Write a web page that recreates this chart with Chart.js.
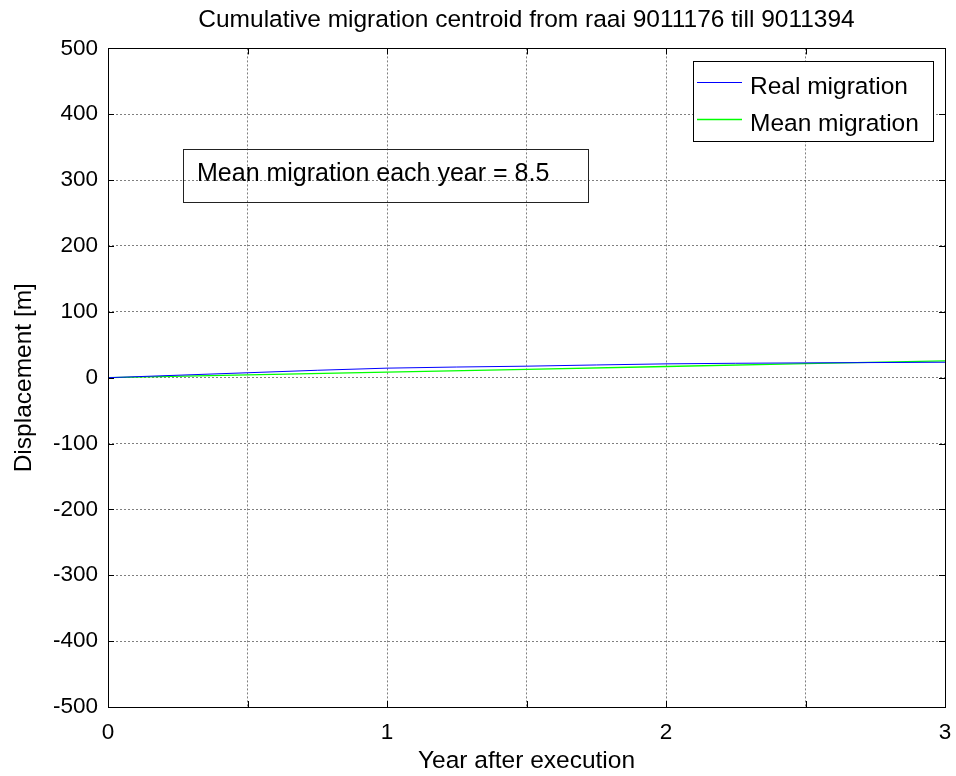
<!DOCTYPE html>
<html>
<head>
<meta charset="utf-8">
<script src="https://cdn.jsdelivr.net/npm/chart.js@4"></script>
<style>
  html, body { margin: 0; padding: 0; background: #fff; }
  #wrap { width: 956px; height: 776px; }
</style>
</head>
<body>
<div id="wrap"><canvas id="chart" width="956" height="776"></canvas></div>
<script>
// data
const years = [0, 0.5, 1, 1.5, 2, 2.5, 3];
const realMigration = [0, 7.5, 14.5, 17.5, 21, 22.5, 23.5];
const meanMigration = [0, 4.25, 8.5, 12.75, 17, 21.25, 25.5];
const seriesLabels = ['Real migration', 'Mean migration'];
const yTicks = [-500, -400, -300, -200, -100, 0, 100, 200, 300, 400, 500];
const xTickLabels = [0, 1, 2, 3];
const titleText = 'Cumulative migration centroid from raai 9011176 till 9011394';
const noteText = 'Mean migration each year = 8.5';

const FONT = "'Liberation Sans', Arial, sans-serif";

function toPoints(xs, ys) {
  return xs.map((x, i) => ({ x, y: ys[i] }));
}

// black box round the axes with inward ticks on all four sides
const matlabFrame = {
  id: 'matlabFrame',
  afterDatasetsDraw(chart) {
    const { ctx, chartArea: a, scales } = chart;
    const len = 6;
    ctx.save();
    ctx.strokeStyle = '#000';
    ctx.lineWidth = 1;
    ctx.setLineDash([]);
    ctx.beginPath();
    scales.x.ticks.forEach((t) => {
      const px = Math.round(scales.x.getPixelForValue(t.value)) + 0.5;
      ctx.moveTo(px, a.bottom); ctx.lineTo(px, a.bottom - len);
      ctx.moveTo(px, a.top); ctx.lineTo(px, a.top + len);
    });
    scales.y.ticks.forEach((t) => {
      const py = Math.round(scales.y.getPixelForValue(t.value)) + 0.5;
      ctx.moveTo(a.left, py); ctx.lineTo(a.left + len, py);
      ctx.moveTo(a.right, py); ctx.lineTo(a.right - len, py);
    });
    ctx.stroke();
    ctx.strokeRect(Math.round(a.left) + 0.5, Math.round(a.top) + 0.5,
      Math.round(a.right - a.left), Math.round(a.bottom - a.top));
    ctx.restore();
  }
};

// legend box (white, top right) and the text note (transparent box)
const matlabBoxes = {
  id: 'matlabBoxes',
  afterDraw(chart) {
    const { ctx, chartArea: a } = chart;
    ctx.save();
    ctx.setLineDash([]);

    // note
    const nx = Math.round(a.left) + 75, ny = Math.round(a.top) + 101, nw = 405, nh = 53;
    ctx.strokeStyle = '#222';
    ctx.lineWidth = 1;
    ctx.strokeRect(nx + 0.5, ny + 0.5, nw, nh);
    ctx.fillStyle = '#000';
    ctx.font = `25px ${FONT}`;
    ctx.textBaseline = 'alphabetic';
    ctx.textAlign = 'left';
    ctx.fillText(noteText, nx + 14, ny + 32);

    // legend
    const lw = 240, lh = 80;
    const lx = Math.round(a.right) - 12 - lw, ly = Math.round(a.top) + 13;
    ctx.fillStyle = '#fff';
    ctx.fillRect(lx, ly, lw, lh);
    ctx.strokeStyle = '#000';
    ctx.strokeRect(lx + 0.5, ly + 0.5, lw, lh);
    chart.data.datasets.forEach((ds, i) => {
      const rowY = Math.round(ly + 21 + i * 36.5);
      ctx.strokeStyle = ds.borderColor;
      ctx.lineWidth = i === 0 ? 1 : 1.5;
      ctx.beginPath();
      ctx.moveTo(lx + 4, rowY + 0.5);
      ctx.lineTo(lx + 49, rowY + 0.5);
      ctx.stroke();
      ctx.fillStyle = '#000';
      ctx.font = `24.5px ${FONT}`;
      ctx.fillText(ds.label, lx + 57, rowY + 12);
    });
    ctx.restore();
  }
};

const gridStyle = {
  color: 'rgba(0,0,0,0.5)',
  lineWidth: 1,
  drawTicks: false
};

new Chart(document.getElementById('chart'), {
  type: 'line',
  data: {
    datasets: [
      {
        label: seriesLabels[0],
        data: toPoints(years, realMigration),
        borderColor: '#0000ff',
        borderWidth: 1,
        pointRadius: 0,
        cubicInterpolationMode: 'monotone'
      },
      {
        label: seriesLabels[1],
        data: toPoints(years, meanMigration),
        borderColor: '#00ff00',
        borderWidth: 1.3,
        pointRadius: 0
      }
    ]
  },
  options: {
    responsive: false,
    animation: false,
    devicePixelRatio: 1,
    layout: { padding: { left: 0, right: 11, top: 0, bottom: 0 } },
    plugins: {
      legend: { display: false },
      tooltip: { enabled: false },
      title: {
        display: true,
        fullSize: false,
        text: titleText,
        color: '#000',
        font: { family: FONT, size: 24.5, weight: 'normal', lineHeight: 1.2 },
        padding: { top: 6, bottom: 13 }
      }
    },
    scales: {
      x: {
        type: 'linear',
        min: 0,
        max: 3,
        afterFit: (s) => { s.height = 69; s.paddingLeft = 0; s.paddingRight = 0; },
        border: { display: false, dash: [2, 2] },
        grid: gridStyle,
        ticks: {
          stepSize: 0.5,
          padding: 12,
          color: '#000',
          font: { family: FONT, size: 22.5 },
          maxRotation: 0,
          autoSkip: false,
          callback: (v) => (xTickLabels.includes(v) ? String(v) : '')
        },
        title: {
          display: true,
          text: 'Year after execution',
          color: '#000',
          font: { family: FONT, size: 24.5 },
          padding: { top: 0, bottom: 0 }
        }
      },
      y: {
        type: 'linear',
        min: yTicks[0],
        max: yTicks[yTicks.length - 1],
        afterFit: (s) => { s.width = 108; s.paddingTop = 0; s.paddingBottom = 0; },
        afterBuildTicks: (s) => { s.ticks = yTicks.map((v) => ({ value: v })); },
        border: { display: false, dash: [2, 2] },
        grid: gridStyle,
        ticks: {
          padding: 10,
          color: '#000',
          font: { family: FONT, size: 22.5 },
          callback: (v) => String(v)
        },
        title: {
          display: true,
          text: 'Displacement [m]',
          color: '#000',
          font: { family: FONT, size: 24.5 },
          padding: { top: 10, bottom: 0 }
        }
      }
    }
  },
  plugins: [matlabFrame, matlabBoxes]
});
</script>
</body>
</html>
